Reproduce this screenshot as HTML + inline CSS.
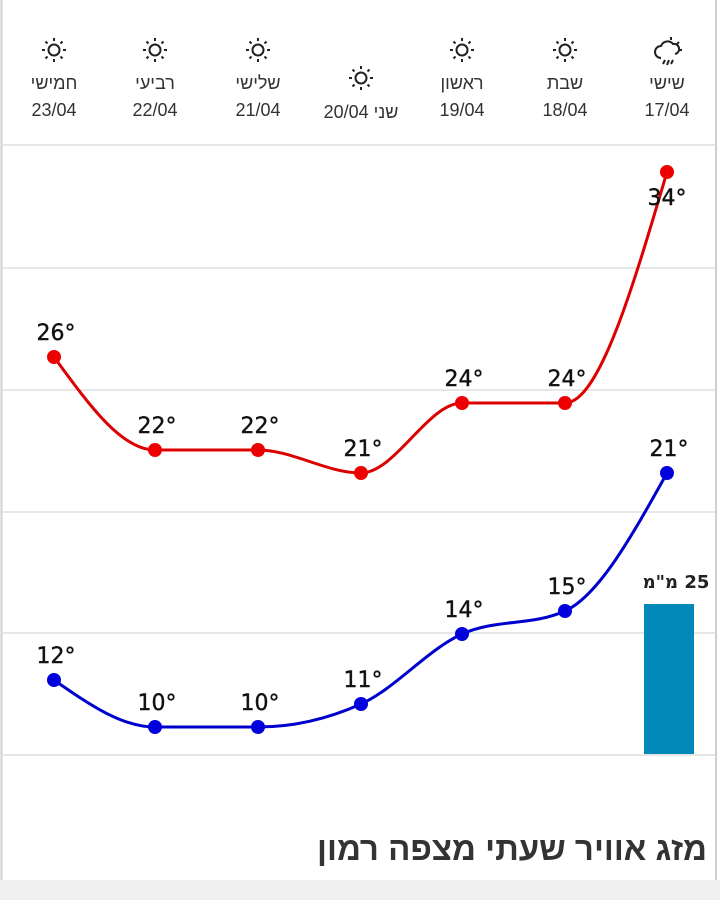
<!DOCTYPE html>
<html><head><meta charset="utf-8"><style>
body{margin:0;width:720px;height:900px;background:#fff;overflow:hidden;position:relative;font-family:"Liberation Sans","Noto Sans CJK SC",sans-serif}
</style></head><body>
<svg width="720" height="900" style="position:absolute;left:0;top:0">
<line x1="1.5" y1="0" x2="1.5" y2="880" stroke="#cfcfcf" stroke-width="2"/>
<line x1="716" y1="0" x2="716" y2="880" stroke="#cfcfcf" stroke-width="2"/>
<g stroke="#e6e6e6" stroke-width="2">
<line x1="3" y1="145" x2="715" y2="145"/><line x1="3" y1="268" x2="715" y2="268"/>
<line x1="3" y1="390" x2="715" y2="390"/><line x1="3" y1="512" x2="715" y2="512"/>
<line x1="3" y1="633" x2="715" y2="633"/><line x1="3" y1="755" x2="715" y2="755"/>
</g>
<rect x="644" y="604" width="50" height="150" fill="#0088b8"/>
<text x="676" y="588" font-family="DejaVu Sans" font-size="18" font-weight="bold" text-anchor="middle" fill="#222" direction="rtl">25 מ"מ</text>
<path d="M54,357 C88,403.4 121,450 155,450 L258,450 C292,450 327,473 361,473 C395,473 428,403 462,403 L565,403 C599,403 633,287 667,172" fill="none" stroke="#dd0000" stroke-width="3"/>
<path d="M54,680 C88,703.5 121,727 155,727 L258,727 C292,727 327,719.3 361,704 C395,688.7 428,649.3 462,634 C496,618.7 531,626.3 565,611 C599,595.7 633,534 667,473" fill="none" stroke="#0000cc" stroke-width="3"/>
<g fill="#ee0000">
<circle cx="54" cy="357" r="7"/><circle cx="155" cy="450" r="7"/><circle cx="258" cy="450" r="7"/><circle cx="361" cy="473" r="7"/><circle cx="462" cy="403" r="7"/><circle cx="565" cy="403" r="7"/><circle cx="667" cy="172" r="7"/>
</g>
<g fill="#0000dd">
<circle cx="54" cy="680" r="7"/><circle cx="155" cy="727" r="7"/><circle cx="258" cy="727" r="7"/><circle cx="361" cy="704" r="7"/><circle cx="462" cy="634" r="7"/><circle cx="565" cy="611" r="7"/><circle cx="667" cy="473" r="7"/>
</g>
<g font-family="DejaVu Sans" font-size="22" text-anchor="middle" fill="#111" stroke="#111" stroke-width="0.4">
<text x="56" y="340">26°</text><text x="157" y="433">22°</text><text x="260" y="433">22°</text><text x="363" y="456">21°</text><text x="464" y="386">24°</text><text x="567" y="386">24°</text><text x="667" y="205">34°</text>
<text x="56" y="663">12°</text><text x="157" y="710">10°</text><text x="260" y="710">10°</text><text x="363" y="687">11°</text><text x="464" y="617">14°</text><text x="567" y="594">15°</text><text x="669" y="456">21°</text>
</g>
<g font-family="Liberation Sans, sans-serif" font-size="18" text-anchor="middle" fill="#333">
<text x="54" y="89">חמישי</text><text x="54" y="116">23/04</text>
<text x="155" y="89">רביעי</text><text x="155" y="116">22/04</text>
<text x="258" y="89">שלישי</text><text x="258" y="116">21/04</text>
<text x="361" y="118">20/04 שני</text>
<text x="462" y="89">ראשון</text><text x="462" y="116">19/04</text>
<text x="565" y="89">שבת</text><text x="565" y="116">18/04</text>
<text x="667" y="89">שישי</text><text x="667" y="116">17/04</text>
</g>
<g stroke="#222" stroke-width="2" fill="none">
<g transform="translate(54,50)"><circle r="5.5"/><path d="M0,-12v3M0,9v3M-12,0h3M9,0h3M-8.5,-8.5l2,2M6.5,6.5l2,2M-8.5,8.5l2,-2M6.5,-6.5l2,-2"/></g>
<g transform="translate(155,50)"><circle r="5.5"/><path d="M0,-12v3M0,9v3M-12,0h3M9,0h3M-8.5,-8.5l2,2M6.5,6.5l2,2M-8.5,8.5l2,-2M6.5,-6.5l2,-2"/></g>
<g transform="translate(258,50)"><circle r="5.5"/><path d="M0,-12v3M0,9v3M-12,0h3M9,0h3M-8.5,-8.5l2,2M6.5,6.5l2,2M-8.5,8.5l2,-2M6.5,-6.5l2,-2"/></g>
<g transform="translate(361,78)"><circle r="5.5"/><path d="M0,-12v3M0,9v3M-12,0h3M9,0h3M-8.5,-8.5l2,2M6.5,6.5l2,2M-8.5,8.5l2,-2M6.5,-6.5l2,-2"/></g>
<g transform="translate(462,50)"><circle r="5.5"/><path d="M0,-12v3M0,9v3M-12,0h3M9,0h3M-8.5,-8.5l2,2M6.5,6.5l2,2M-8.5,8.5l2,-2M6.5,-6.5l2,-2"/></g>
<g transform="translate(565,50)"><circle r="5.5"/><path d="M0,-12v3M0,9v3M-12,0h3M9,0h3M-8.5,-8.5l2,2M6.5,6.5l2,2M-8.5,8.5l2,-2M6.5,-6.5l2,-2"/></g>
<g transform="translate(667,50)"><path d="M-6,8a6,6 0 0 1 0,-12a7,7 0 0 1 12,-2a5,5 0 0 1 2,10"/><path d="M4,-10v-3M10,-6l2,-2M12,0h3M-2,10l-2,4M2,10l-2,5M6,10l-2,4"/></g>
</g>
<rect x="0" y="880" width="720" height="20" fill="#f0f0f0"/>
<text x="707" y="860" font-family="Liberation Sans, sans-serif" font-size="33" font-weight="bold" fill="#333" text-anchor="start" direction="rtl">מזג אוויר שעתי מצפה רמון</text>
</svg>
</body></html>
